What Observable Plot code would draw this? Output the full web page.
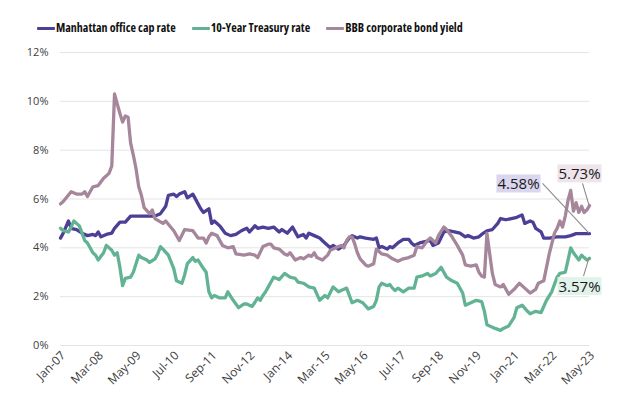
<!DOCTYPE html>
<html>
<head>
<meta charset="utf-8">
<script src="https://cdn.jsdelivr.net/npm/d3@7"></script>
<script src="https://cdn.jsdelivr.net/npm/@observablehq/plot@0.6"></script>
<style>
  html, body { margin: 0; padding: 0; background: #fff; }
  #wrap { width: 640px; height: 402px; overflow: hidden; }
  #legend { height: 40px; box-sizing: border-box; padding: 16px 0 0 37px; display: flex; align-items: center;
    font-family: "Open Sans", sans-serif; font-weight: 700; font-size: 12px; color: #111; font-stretch: 75%; line-height: 16px; }
  .item { display: flex; align-items: center; margin-right: 16px; white-space: nowrap; }
  .sw { display: inline-block; width: 18px; height: 3px; border-radius: 1px; margin-right: 1px; }
</style>
</head>
<body>
<div id="wrap">
  <div id="legend"></div>
  <div id="chart"></div>
</div>
<script>
// ---- data ----
const seriesNames = ["Manhattan office cap rate", "10-Year Treasury rate", "BBB corporate bond yield"];
const seriesColors = ["#4b3f96", "#62b393", "#a6869b"];

const manhattan = [
["2007-01",4.4],["2007-02",4.6],["2007-04",5.1],["2007-05",4.8],["2007-07",4.75],["2007-09",4.6],["2007-11",4.5],
["2008-01",4.55],["2008-02",4.5],["2008-03",4.65],["2008-04",4.45],["2008-06",4.55],["2008-08",4.6],["2008-09",4.8],["2008-11",5.05],
["2009-01",5.05],["2009-03",5.3],["2009-12",5.3],
["2010-02",5.4],["2010-04",5.7],["2010-05",6.15],["2010-07",6.2],["2010-08",6.1],["2010-09",6.2],["2010-11",6.3],["2010-12",6.05],
["2011-02",6.2],["2011-04",5.8],["2011-05",5.6],["2011-06",5.45],["2011-08",5.6],["2011-09",5.0],["2011-10",5.1],["2011-12",4.9],
["2012-02",4.6],["2012-04",4.5],["2012-06",4.55],["2012-08",4.7],["2012-10",4.8],["2012-11",4.65],
["2013-01",4.9],["2013-02",4.8],["2013-04",4.85],["2013-06",4.8],["2013-08",4.85],["2013-10",4.65],["2013-11",4.75],
["2014-01",4.6],["2014-03",4.85],["2014-05",4.45],["2014-07",4.55],["2014-08",4.4],["2014-09",4.6],["2014-11",4.5],
["2015-01",4.4],["2015-03",4.2],["2015-05",4.0],["2015-06",4.1],["2015-08",3.95],["2015-10",4.1],["2015-12",4.4],
["2016-01",4.5],["2016-03",4.4],["2016-04",4.45],["2016-06",4.4],["2016-09",4.35],["2016-10",4.4],["2016-11",4.0],["2016-12",4.05],
["2017-02",3.95],["2017-03",4.05],["2017-04",4.0],["2017-06",4.2],["2017-08",4.35],["2017-10",4.35],["2017-11",4.2],["2017-12",4.1],
["2018-02",4.2],["2018-04",4.25],["2018-06",4.3],["2018-07",4.1],["2018-09",4.2],["2018-11",4.65],
["2019-01",4.7],["2019-03",4.65],["2019-05",4.6],["2019-07",4.45],["2019-08",4.5],["2019-10",4.4],["2019-12",4.45],
["2020-01",4.55],["2020-03",4.7],["2020-05",4.75],["2020-07",5.0],["2020-08",5.2],["2020-10",5.15],["2020-12",5.2],
["2021-02",5.25],["2021-04",5.35],["2021-05",5.0],["2021-07",5.1],["2021-08",5.05],["2021-09",4.8],["2021-11",4.65],["2021-12",4.4],
["2022-02",4.4],["2022-05",4.45],["2022-08",4.45],["2022-10",4.5],["2022-12",4.58],["2023-05",4.58]
];

const treasury = [
["2007-01",4.8],["2007-02",4.7],["2007-04",4.65],["2007-05",4.85],["2007-06",5.1],["2007-08",4.9],["2007-09",4.6],["2007-10",4.3],["2007-11",4.2],["2007-12",4.0],
["2008-01",3.8],["2008-02",3.7],["2008-03",3.5],["2008-05",3.8],["2008-06",4.1],["2008-08",3.9],["2008-09",3.7],["2008-10",3.8],["2008-11",3.2],["2008-12",2.45],
["2009-01",2.75],["2009-03",2.8],["2009-04",3.0],["2009-06",3.7],["2009-07",3.6],["2009-09",3.5],["2009-10",3.4],["2009-12",3.55],
["2010-01",3.75],["2010-02",4.05],["2010-03",3.95],["2010-05",3.7],["2010-07",3.15],["2010-08",2.65],["2010-10",2.55],["2010-11",2.9],["2010-12",3.35],
["2011-02",3.6],["2011-03",3.45],["2011-04",3.5],["2011-06",3.15],["2011-07",3.0],["2011-08",2.2],["2011-09",1.95],["2011-10",2.05],["2011-12",1.95],
["2012-02",1.95],["2012-03",2.2],["2012-05",1.85],["2012-07",1.55],["2012-09",1.7],["2012-10",1.7],["2012-12",1.6],
["2013-02",1.95],["2013-03",1.85],["2013-04",2.05],["2013-05",2.2],["2013-06",2.4],["2013-07",2.6],["2013-08",2.8],["2013-10",2.7],["2013-12",2.95],
["2014-02",2.8],["2014-04",2.75],["2014-05",2.6],["2014-07",2.55],["2014-09",2.4],["2014-11",2.35],
["2015-01",1.85],["2015-03",2.05],["2015-04",1.95],["2015-06",2.4],["2015-08",2.2],["2015-10",2.3],["2015-11",2.35],
["2016-01",1.75],["2016-03",1.85],["2016-05",1.75],["2016-07",1.5],["2016-09",1.6],["2016-10",1.85],["2016-11",2.4],["2016-12",2.55],
["2017-02",2.45],["2017-03",2.5],["2017-04",2.35],["2017-05",2.25],["2017-06",2.35],["2017-08",2.2],["2017-10",2.35],["2017-12",2.35],
["2018-01",2.8],["2018-03",2.85],["2018-05",2.95],["2018-06",2.85],["2018-08",2.95],["2018-10",3.2],["2018-12",2.8],
["2019-02",2.65],["2019-04",2.55],["2019-06",2.15],["2019-07",1.65],["2019-09",1.75],["2019-11",1.85],
["2020-01",1.8],["2020-02",1.4],["2020-03",0.85],["2020-06",0.7],["2020-08",0.62],["2020-09",0.7],["2020-11",0.8],
["2021-01",1.15],["2021-02",1.55],["2021-04",1.65],["2021-06",1.4],["2021-07",1.3],["2021-09",1.4],["2021-11",1.35],
["2022-01",1.85],["2022-03",2.2],["2022-05",2.8],["2022-06",2.95],["2022-08",3.0],["2022-09",3.5],["2022-10",4.0],["2022-11",3.8],
["2023-01",3.5],["2023-02",3.7],["2023-03",3.6],["2023-04",3.5],["2023-05",3.57]
];

const bbb = [
["2007-01",5.8],["2007-02",5.9],["2007-05",6.3],["2007-07",6.2],["2007-09",6.2],["2007-10",6.3],["2007-11",6.1],
["2008-01",6.5],["2008-03",6.55],["2008-05",6.85],["2008-07",7.05],["2008-08",7.35],["2008-09",10.3],["2008-10",9.9],["2008-11",9.5],["2008-12",9.15],
["2009-01",9.4],["2009-02",9.35],["2009-03",8.3],["2009-04",7.8],["2009-05",7.25],["2009-06",6.5],["2009-07",6.15],["2009-08",5.65],["2009-10",5.4],["2009-11",5.55],["2009-12",5.2],
["2010-03",5.0],["2010-04",5.1],["2010-07",4.7],["2010-09",4.3],["2010-11",4.75],
["2011-02",4.7],["2011-04",4.4],["2011-06",4.4],["2011-07",4.2],["2011-08",4.45],["2011-09",4.6],["2011-11",4.5],
["2012-01",4.1],["2012-03",4.0],["2012-05",4.05],["2012-06",3.75],["2012-09",3.7],["2012-11",3.75],
["2013-01",3.7],["2013-02",3.6],["2013-04",4.05],["2013-06",4.15],["2013-07",4.15],["2013-08",4.0],["2013-10",3.95],["2013-12",3.75],
["2014-01",3.7],["2014-02",3.8],["2014-04",3.5],["2014-06",3.6],["2014-07",3.55],["2014-09",3.7],["2014-10",3.65],["2014-11",3.8],["2014-12",3.6],
["2015-02",3.5],["2015-04",3.7],["2015-05",3.9],["2015-07",4.0],["2015-09",4.1],["2015-10",4.0],["2015-11",4.3],["2015-12",4.45],
["2016-01",4.45],["2016-02",4.15],["2016-03",3.8],["2016-04",3.55],["2016-06",3.3],["2016-07",3.25],["2016-09",3.35],["2016-10",3.95],["2016-12",3.75],
["2017-02",3.7],["2017-04",3.55],["2017-06",3.45],["2017-08",3.55],["2017-10",3.6],["2017-12",3.7],
["2018-01",4.05],["2018-03",4.0],["2018-05",4.3],["2018-06",4.4],["2018-08",4.2],["2018-09",4.5],["2018-11",4.85],["2018-12",4.75],
["2019-02",4.45],["2019-04",4.1],["2019-06",3.7],["2019-07",3.3],["2019-09",3.25],["2019-11",3.3],["2019-12",3.0],
["2020-01",2.85],["2020-02",2.8],["2020-03",4.6],["2020-04",3.75],["2020-05",2.95],["2020-06",2.5],["2020-08",2.4],["2020-09",2.5],["2020-11",2.1],
["2021-01",2.3],["2021-03",2.55],["2021-05",2.35],["2021-07",2.15],["2021-09",2.3],["2021-10",2.55],["2021-12",2.65],
["2022-02",3.75],["2022-04",4.6],["2022-05",4.8],["2022-06",5.1],["2022-07",4.85],["2022-08",5.3],["2022-09",5.95],["2022-10",6.35],["2022-11",5.5],["2022-12",5.85],
["2023-01",5.45],["2023-02",5.7],["2023-03",5.45],["2023-04",5.55],["2023-05",5.73]
];

const tickDates = ["2007-01","2008-03","2009-05","2010-07","2011-09","2012-11","2014-01","2015-03","2016-05","2017-07","2018-09","2019-11","2021-01","2022-03","2023-05"];
const tickLabels = ["Jan-07","Mar-08","May-09","Jul-10","Sep-11","Nov-12","Jan-14","Mar-15","May-16","Jul-17","Sep-18","Nov-19","Jan-21","Mar-22","May-23"];
const yTicks = [0, 2, 4, 6, 8, 10, 12];
const labelFills = ["#d9d6ee", "#e0f2ea", "#eee4ea"];

// ---- build ----
const parse = d3.utcParse("%Y-%m");
const toRows = (arr, s) => arr.map(([d, v]) => ({date: parse(d), value: v, series: s}));
const rows = [toRows(manhattan, 0), toRows(treasury, 1), toRows(bbb, 2)];
const tickDateObjs = tickDates.map(parse);
const labelMap = new Map(tickDateObjs.map((d, i) => [+d, tickLabels[i]]));

// legend
const legend = document.getElementById("legend");
seriesNames.forEach((n, i) => {
  const it = document.createElement("span"); it.className = "item";
  const sw = document.createElement("span"); sw.className = "sw"; sw.style.background = seriesColors[i];
  const lb = document.createElement("span"); lb.textContent = n;
  it.append(sw, lb); legend.append(it);
});

// label offsets (pixels) relative to the last point of each series
const labelOffsets = [{dx: -71, dy: -49, side: "right"}, {dx: -10, dy: 29, side: "top"}, {dx: -10, dy: -31, side: "bottom"}];
const lastRows = rows.map(r => r[r.length - 1]);
const labelText = d => d.value.toFixed(2) + "%";

const chart = Plot.plot({
  width: 640, height: 362,
  marginTop: 12, marginBottom: 57, marginLeft: 60, marginRight: 51,
  x: {type: "utc", domain: [parse("2007-01"), parse("2023-05")]},
  y: {domain: [0, 12]},
  style: {fontFamily: "Open Sans, sans-serif", fontSize: "11px", color: "#404040", background: "#fff", overflow: "visible"},
  marks: [
    Plot.gridY(yTicks, {stroke: "#e4e4e4", strokeOpacity: 1, strokeWidth: 1}),
    Plot.axisY(yTicks, {tickSize: 0, tickPadding: 12, tickFormat: d => d + "%", label: null}),
    Plot.axisX(tickDateObjs, {tickSize: 0, tickPadding: 8, dx: 3, tickRotate: -45, textAnchor: "end", fontSize: 12, tickFormat: d => labelMap.get(+d), label: null}),
    ...rows.map((r, i) => Plot.line(r, {x: "date", y: "value", stroke: seriesColors[i], strokeWidth: 3.3, strokeLinejoin: "round", strokeLinecap: "round"})),
    ...lastRows.map((r, i) => Plot.text([r], {x: "date", y: "value", text: labelText,
      dx: labelOffsets[i].dx, dy: labelOffsets[i].dy, fontSize: 15, fill: "#1a1a1a", textAnchor: "middle", lineAnchor: "middle"}))
  ]
});
document.getElementById("chart").append(chart);

// boxes and leader lines behind the value labels
const svgNS = "http://www.w3.org/2000/svg";
const xs = chart.scale("x"), ys = chart.scale("y");
const svgBox = chart.getBoundingClientRect();
const allTexts = Array.from(chart.querySelectorAll('g[aria-label="text"] text'));
let firstTextGroup = null;
const overlay = document.createElementNS(svgNS, "g");
const lineLayer = document.createElementNS(svgNS, "g");
const rectLayer = document.createElementNS(svgNS, "g");
overlay.append(lineLayer, rectLayer);
lastRows.forEach((r, i) => {
  const t = allTexts.find(el => el.textContent === labelText(r));
  if (!t) return;
  if (!firstTextGroup) firstTextGroup = t.closest('g[aria-label="text"]');
  const cb = t.getBoundingClientRect();
  const bx = cb.left - svgBox.left - 1, by = cb.top - svgBox.top + 1, bw = cb.width + 2, bh = cb.height - 2;
  const rect = document.createElementNS(svgNS, "rect");
  rect.setAttribute("x", bx); rect.setAttribute("y", by);
  rect.setAttribute("width", bw); rect.setAttribute("height", bh);
  rect.setAttribute("fill", labelFills[i]);
  rectLayer.append(rect);
  const px = xs.apply(r.date), py = ys.apply(r.value);
  let lx, ly;
  const side = labelOffsets[i].side;
  if (side === "right") { lx = bx + bw + 2; ly = by + bh / 2; }
  else if (side === "top") { lx = bx + bw / 2 + 4; ly = by - 1; }
  else { lx = bx + bw / 2 + 3; ly = by + bh + 1; }
  const line = document.createElementNS(svgNS, "line");
  line.setAttribute("x1", lx); line.setAttribute("y1", ly);
  line.setAttribute("x2", px); line.setAttribute("y2", py);
  line.setAttribute("stroke", "#8c8c8c"); line.setAttribute("stroke-width", 1.1);
  lineLayer.append(line);
});
if (firstTextGroup) firstTextGroup.parentNode.insertBefore(overlay, firstTextGroup);
</script>
</body>
</html>
